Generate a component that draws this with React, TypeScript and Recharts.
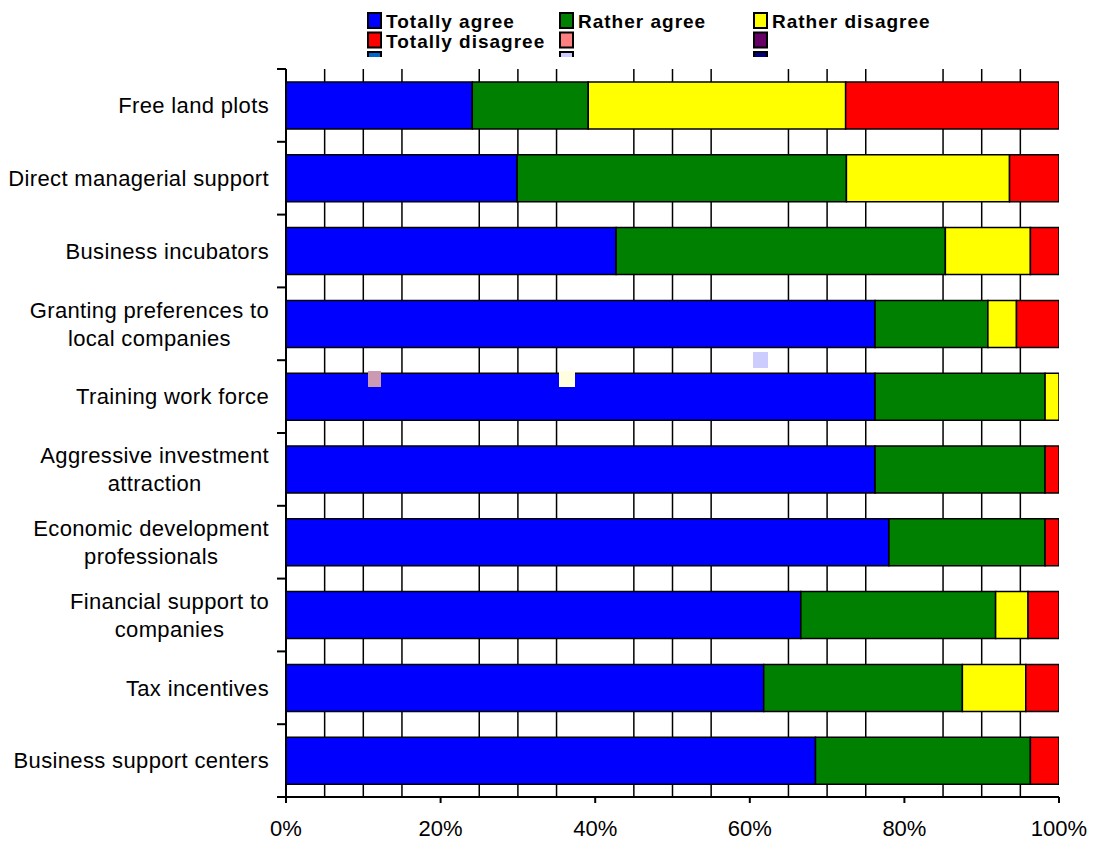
import React from 'react';
import { BarChart, Bar, XAxis, YAxis, CartesianGrid } from 'recharts';

const categories = [
  'Free land plots',
  'Direct managerial support',
  'Business incubators',
  'Granting preferences to\nlocal companies',
  'Training work force',
  'Aggressive investment\nattraction',
  'Economic development\nprofessionals',
  'Financial support to\ncompanies',
  'Tax incentives',
  'Business support centers',
];

const totallyAgree = [24.1, 29.9, 42.7, 76.2, 76.2, 76.2, 78.0, 66.6, 61.8, 68.5];
const ratherAgree = [15.0, 42.6, 42.6, 14.6, 22.0, 22.0, 20.2, 25.2, 25.7, 27.8];
const ratherDisagree = [33.3, 21.1, 11.0, 3.7, 1.8, 0, 0, 4.2, 8.2, 0];
const totallyDisagree = [27.6, 6.4, 3.7, 5.5, 0, 1.8, 1.8, 4.0, 4.3, 3.7];

const xTicks = [0, 20, 40, 60, 80, 100];
const minorGrid = [5, 10, 15, 25, 30, 35, 45, 50, 55, 65, 70, 75, 85, 90, 95];

const seriesNames = ['Totally agree', 'Rather agree', 'Rather disagree', 'Totally disagree'];
const seriesKeys = ['ta', 'ra', 'rd', 'td'];
const seriesColors = ['#0000FF', '#008000', '#FFFF00', '#FF0000'];

const legendNames = ['Totally agree', 'Rather agree', 'Rather disagree', 'Totally disagree', '', '', '', '', ''];
const legendColors = ['#0000FF', '#008000', '#FFFF00', '#FF0000', '#FF8080', '#660066', '#0066CC', '#CCCCFF', '#000080'];

const data = categories.map((c, i) => ({
  category: c,
  ta: totallyAgree[i],
  ra: ratherAgree[i],
  rd: ratherDisagree[i],
  td: totallyDisagree[i],
}));

const FONT = '"Liberation Sans", Arial, sans-serif';
const LABEL_SPACING = 0.35;
const TICK_SIZE = 9;
const TICK_MARGIN = 8;

let ctx: CanvasRenderingContext2D | null = null;
function measure(text: string, size: number): number {
  if (!ctx) {
    const c = document.createElement('canvas');
    ctx = c.getContext('2d');
  }
  if (!ctx) return text.length * size * 0.5;
  ctx.font = `${size}px ${FONT}`;
  return ctx.measureText(text).width + text.length * LABEL_SPACING;
}

const CategoryTick = (props: any) => {
  const { x, y, payload, index, visibleTicksCount } = props;
  const size = 22;
  const lines = String(payload.value).split('\n');
  const w = Math.max(...lines.map((l) => measure(l, size)));
  const cx = x - w / 2;
  const lh = 28;
  const first = y - ((lines.length - 1) * lh) / 2 + size * 0.35;
  const half = typeof payload.offset === 'number' ? payload.offset : 0;
  const x1 = x + TICK_MARGIN;
  const x2 = x + TICK_MARGIN + TICK_SIZE;
  return (
    <g>
      {half > 0 ? (
        <line x1={x1} x2={x2} y1={y - half} y2={y - half} stroke="#000" strokeWidth={2} />
      ) : null}
      {half > 0 && index === visibleTicksCount - 1 ? (
        <line x1={x1} x2={x2} y1={y + half} y2={y + half} stroke="#000" strokeWidth={2} />
      ) : null}
      <text
        x={cx}
        y={first}
        textAnchor="middle"
        fontSize={size}
        fontFamily={FONT}
        letterSpacing={LABEL_SPACING}
        fill="#000"
      >
        {lines.map((l, i) => (
          <tspan key={i} x={cx} dy={i === 0 ? 0 : lh}>
            {l}
          </tspan>
        ))}
      </text>
    </g>
  );
};

const Legend = () => {
  const colX = [367, 559, 753];
  const rowY = [12, 31.5, 51];
  return (
    <svg
      width={1096}
      height={57}
      style={{ position: 'absolute', left: 0, top: 0, overflow: 'hidden' }}
    >
      {legendNames.map((n, i) => {
        const col = i % 3;
        const row = Math.floor(i / 3);
        const x = colX[col];
        const y = rowY[row];
        return (
          <g key={i}>
            <rect x={x + 1} y={y + 1} width={13} height={15} fill={legendColors[i]} stroke="#000" strokeWidth={2} />
            {n ? (
              <text
                x={x + 19}
                y={y + 16}
                fontSize={19}
                fontWeight="bold"
                fontFamily={FONT}
                letterSpacing={1}
                fill="#000"
              >
                {n}
              </text>
            ) : null}
          </g>
        );
      })}
    </svg>
  );
};

const strayColors = ['#CC99B3', '#FFFFE0', '#CCCCFF'];

const App = () => {
  return (
    <div style={{ position: 'absolute', left: 0, top: 0, width: 1096, height: 841, background: '#fff' }}>
      <BarChart
        width={1096}
        height={841}
        data={data}
        layout="vertical"
        margin={{ top: 69, right: 37, bottom: 0, left: 0 }}
      >
        <CartesianGrid horizontal={false} vertical={true} verticalValues={minorGrid} stroke="#000" strokeWidth={1.5} strokeDasharray="" />
        <YAxis
          yAxisId="cat"
          type="category"
          dataKey="category"
          width={286}
          tickLine={false}
          tickSize={TICK_SIZE}
          tickMargin={TICK_MARGIN}
          axisLine={{ stroke: '#000', strokeWidth: 2 }}
          tick={<CategoryTick />}
          interval={0}
        />
        <XAxis
          type="number"
          domain={[0, 100]}
          ticks={xTicks}
          allowDataOverflow
          height={44}
          tickSize={6}
          tickMargin={17}
          tickFormatter={(v: number) => `${v}%`}
          tick={{ fill: '#000', fontSize: 22, fontFamily: FONT }}
          tickLine={{ stroke: '#000', strokeWidth: 2 }}
          axisLine={{ stroke: '#000', strokeWidth: 2 }}
          interval={0}
        />
        {seriesKeys.map((k, i) => (
          <Bar
            key={k}
            yAxisId="cat"
            dataKey={k}
            name={seriesNames[i]}
            stackId="a"
            fill={seriesColors[i]}
            stroke="#000"
            strokeWidth={1.5}
            barSize={47}
            isAnimationActive={false}
          />
        ))}
      </BarChart>
      <Legend />
      <div style={{ position: 'absolute', left: 368, top: 371, width: 13, height: 16, background: strayColors[0] }} />
      <div style={{ position: 'absolute', left: 559, top: 371, width: 16, height: 16, background: strayColors[1] }} />
      <div style={{ position: 'absolute', left: 753, top: 352, width: 15, height: 16, background: strayColors[2] }} />
    </div>
  );
};

export default App;
